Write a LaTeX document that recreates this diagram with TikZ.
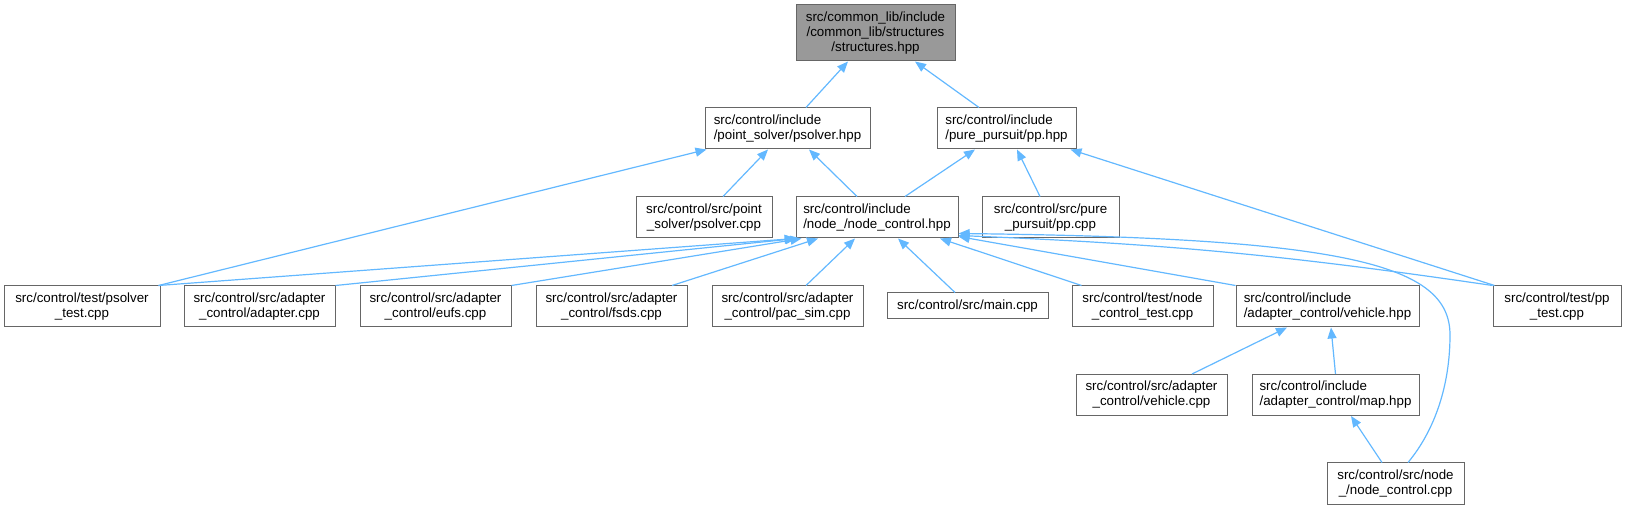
\documentclass[tikz,border=0pt]{standalone}
\usepackage{fontspec}
\setmainfont{Liberation Sans}
\usepackage{xcolor}
\usetikzlibrary{arrows.meta,positioning}
\definecolor{edgeblue}{HTML}{63B8FF}
\definecolor{boxgray}{HTML}{666666}
\definecolor{rootfill}{HTML}{999999}

\begin{document}
\begin{tikzpicture}[x=1pt, y=-1pt, >={Triangle[length=11pt,width=9pt]},
  file/.style={draw=boxgray, fill=white, line width=1pt, inner sep=0pt,
    minimum height=41pt, align=center, font=\fontsize{13.33}{15}\selectfont},
  incl/.style={->, draw=edgeblue, line width=1.2pt}]
  \useasboundingbox (0,0) rectangle (1626,510);

  \node[file, fill=rootfill, minimum width=159pt, minimum height=56pt] (root) at (875.5,33)
    {src/common\_lib/include\\/common\_lib/structures\\/structures.hpp};

  \node[file, minimum width=165pt, align=left] (psh) at (787.5,128.5)
    {src/control/include\\/point\_solver/psolver.hpp};
  \node[file, minimum width=139pt, align=left] (pph) at (1006.5,128.5)
    {src/control/include\\/pure\_pursuit/pp.hpp};

  \node[file, minimum width=136pt] (psc) at (704,217.5) {src/control/src/point\\\_solver/psolver.cpp};
  \node[file, minimum width=162pt, align=left] (nch) at (877,217.5)
    {src/control/include\\/node\_/node\_control.hpp};
  \node[file, minimum width=137pt] (ppc) at (1050.5,217.5) {src/control/src/pure\\\_pursuit/pp.cpp};

  \node[file, minimum width=156pt] (pst) at (82,306.5) {src/control/test/psolver\\\_test.cpp};
  \node[file, minimum width=151pt] (ada) at (259.5,306.5) {src/control/src/adapter\\\_control/adapter.cpp};
  \node[file, minimum width=151pt] (euf) at (435.5,306.5) {src/control/src/adapter\\\_control/eufs.cpp};
  \node[file, minimum width=151pt] (fsd) at (611.5,306.5) {src/control/src/adapter\\\_control/fsds.cpp};
  \node[file, minimum width=151pt] (pac) at (787.5,306.5) {src/control/src/adapter\\\_control/pac\_sim.cpp};
  \node[file, minimum width=161pt, minimum height=26pt] (mai) at (967.5,306) {src/control/src/main.cpp};
  \node[file, minimum width=141pt] (nct) at (1142.5,306.5) {src/control/test/node\\\_control\_test.cpp};
  \node[file, minimum width=183pt, align=left] (veh) at (1327.5,306.5)
    {src/control/include\\/adapter\_control/vehicle.hpp};
  \node[file, minimum width=128pt] (ppt) at (1557,306.5) {src/control/test/pp\\\_test.cpp};

  \node[file, minimum width=151pt] (vcp) at (1151.5,395) {src/control/src/adapter\\\_control/vehicle.cpp};
  \node[file, minimum width=167pt, align=left] (map) at (1335.5,395)
    {src/control/include\\/adapter\_control/map.hpp};

  \node[file, minimum width=137pt] (ncc) at (1395.5,483.5) {src/control/src/node\\\_/node\_control.cpp};

  \draw[incl] ([xshift=18.5pt]psh.north) -- ([xshift=-27.5pt]root.south);
  \draw[incl] ([xshift=-27.5pt]pph.north) -- ([xshift=39.5pt]root.south);
  \draw[incl] ([xshift=-2pt]pst.north east) -- ([xshift=2pt]psh.south west);
  \draw[incl] ([xshift=19pt]psc.north) -- ([xshift=-19.5pt]psh.south);
  \draw[incl] ([xshift=-20pt]nch.north) -- ([xshift=21.5pt]psh.south);
  \draw[incl] ([xshift=28pt]nch.north) -- ([xshift=-31.5pt]pph.south);
  \draw[incl] ([xshift=-10.5pt]ppc.north) -- ([xshift=10.5pt]pph.south);
  \draw[incl] ([xshift=2pt]ppt.north west) -- ([xshift=-6pt]pph.south east);

  \draw[incl] ([xshift=-2pt]pst.north east) -- (nch.south west);
  \draw[incl] (ada.north east) -- ([xshift=1pt]nch.south west);
  \draw[incl] (euf.north east) -- ([xshift=6pt]nch.south west);
  \draw[incl] ([xshift=60.5pt]fsd.north) -- ([xshift=-59pt]nch.south);
  \draw[incl] ([xshift=18.5pt]pac.north) -- ([xshift=-22pt]nch.south);
  \draw[incl] ([xshift=-12.5pt]mai.north) -- ([xshift=21pt]nch.south);
  \draw[incl] ([xshift=10pt]nct.north west) -- ([xshift=63pt]nch.south);
  \draw[incl] (veh.north west) -- ([yshift=2pt]nch.south east);
  \draw[incl] (ppt.north west) to[bend right=3] ([yshift=3pt]nch.south east);
  \draw[incl] ([xshift=12.5pt]ncc.north) .. controls (1435,430) and (1450,385) .. (1450,335)
    .. controls (1450,265) and (1350,238) .. ([yshift=5pt]nch.south east);

  \draw[incl] ([xshift=40.5pt]vcp.north) -- ([xshift=-40.5pt]veh.south);
  \draw[incl] (map.north) -- ([xshift=3.5pt]veh.south);
  \draw[incl] ([xshift=-13.5pt]ncc.north) -- ([xshift=15.5pt]map.south);
\end{tikzpicture}
\end{document}
